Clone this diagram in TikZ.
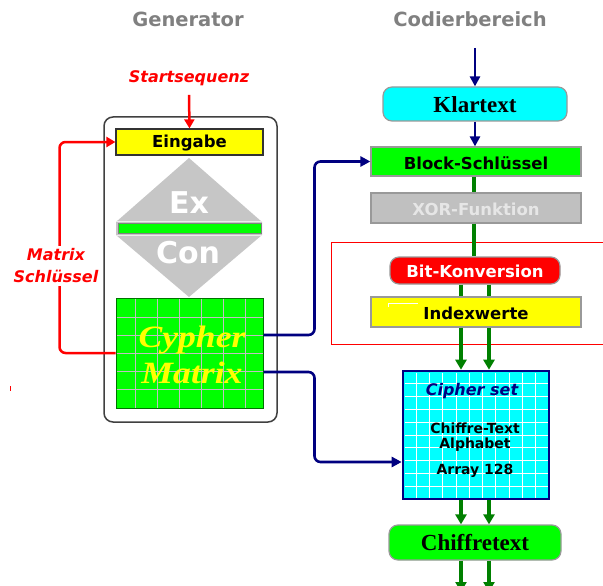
\documentclass[tikz,border=0pt]{standalone}
\usepackage{fontspec}
\usepackage{graphicx}
\setmainfont{Liberation Serif}
\newfontfamily\dv{DejaVu Sans}
\usetikzlibrary{arrows.meta}
\definecolor{navyc}{HTML}{000080}
\definecolor{dgreen}{HTML}{008000}
\definecolor{limec}{HTML}{00FF00}
\definecolor{cyanc}{HTML}{00FFFF}
\definecolor{yelc}{HTML}{FFFF00}
\definecolor{redc}{HTML}{FF0000}
\definecolor{titlegray}{HTML}{808080}
\definecolor{boxgray}{HTML}{C0C0C0}
\definecolor{diagray}{HTML}{C6C6C6}
\definecolor{bordgray}{HTML}{999999}
\definecolor{gridgray}{HTML}{C0C0C0}
\definecolor{xortext}{HTML}{E6E6E6}
\tikzset{
  title/.style={anchor=base, text=titlegray, font=\dv\bfseries\fontsize{19.5}{20}\selectfont},
  sbox/.style={draw=bordgray, line width=1.2pt, inner sep=0pt, text height=13pt, text depth=0pt,
    font=\dv\bfseries\fontsize{16.5}{18}\selectfont},
  serifbox/.style={draw=bordgray, line width=1.2pt, inner sep=0pt, rounded corners=9pt,
    text height=17pt, text depth=0pt, font=\bfseries\fontsize{23}{24}\selectfont},
  redlabel/.style={text=redc, font=\dv\bfseries\itshape\fontsize{16}{22}\selectfont},
  rline/.style={draw=redc, line width=2.5pt, -{Triangle[width=10pt,length=9pt]}},
  nline/.style={draw=navyc, line width=2.6pt, rounded corners=6pt, -{Triangle[width=10pt,length=10pt]}},
  gline/.style={draw=dgreen, line width=4pt},
  garrow/.style={gline, -{Triangle[width=11pt,length=10pt]}},
  smalltext/.style={anchor=base, font=\dv\bfseries\fontsize{14}{14}\selectfont},
}
\begin{document}
\begin{tikzpicture}[x=1pt,y=-1pt]
\useasboundingbox (0,0) rectangle (603,586);
\clip (0,0) rectangle (603,586);
\fill[white] (0,0) rectangle (603,586);

% titles
\node[title] (gen) at (188,27) {Generator};
\node[title] (cod) at (470,27) {Codierbereich};

% generator frame
\node[draw=black!75, line width=1.5pt, rounded corners=9pt, minimum width=173, minimum height=305, inner sep=0pt] (gbox) at (190.5,269.5) {};

% Ex/Con diamond
\fill[diagray] (116,222) -- (189,158) -- (262,222) -- (262,235) -- (189,297) -- (116,235) -- cycle;
\draw[white!85!gray, line width=1pt] (116,221) -- (262,221) (116,235) -- (262,235);
\node[fill=limec, draw=gray, line width=.8pt, minimum width=143, minimum height=10, inner sep=0pt] (bar) at (189.5,228) {};
\node[anchor=base, text=white, font=\dv\bfseries\fontsize{30}{30}\selectfont] (ex) at (189,213) {Ex};
\node[anchor=base, text=white, font=\dv\bfseries\fontsize{30}{30}\selectfont] (con) at (188,263) {Con};

% Eingabe
\node[sbox, fill=yelc, draw=black!80, minimum width=147, minimum height=26, text height=10pt] (eing) at (189.5,142) {Eingabe};

% Cypher Matrix
\node[fill=limec, draw=green!45!black, line width=1pt, minimum width=147, minimum height=110, inner sep=0pt] (cm) at (189.5,353) {};
\foreach \x in {135,157,179,201,223,245} \draw[gridgray, line width=1pt] (\x,298.5) -- (\x,407.5);
\foreach \y in {317,335,353,371,389} \draw[gridgray, line width=1pt] (116.5,\y) -- (262.5,\y);
\node[anchor=base, text=yelc, font=\bfseries\itshape\fontsize{31}{31}\selectfont] (cy) at (192,347) {\scalebox{1.15}[1]{Cypher}};
\node[anchor=base, text=yelc, font=\bfseries\itshape\fontsize{31}{31}\selectfont] (mx) at (192,383) {\scalebox{1.15}[1]{Matrix}};

% Startsequenz
\node[redlabel, anchor=base] (start) at (189,83) {Startsequenz};
\draw[rline] ([yshift=-5pt]start.south) -- (eing.north);

% Matrix Schluessel loop
\draw[rline, rounded corners=6pt] (cm.west) -- ++(-56,0) |- (eing.west);
\node[redlabel, fill=white, align=center, inner sep=3pt] (ms) at (56,266) {Matrix\\Schlüssel};

% stray red dot
\fill[redc] (9.5,386) rectangle (11,390.5);

% right column
\coordinate (kin) at (475,48);
\node[serifbox, fill=cyanc, minimum width=184, minimum height=34, text height=18pt] (klar) at (475,104) {Klartext};
\node[sbox, fill=limec, minimum width=210, minimum height=29, text height=15pt] (block) at (476,161.5) {Block-Schlüssel};
\node[sbox, fill=boxgray, text=xortext, minimum width=210, minimum height=30, text height=14pt] (xor) at (476,208) {XOR-Funktion};
\draw[redc, line width=1pt] (331,242) rectangle (615,344);
\node[sbox, fill=redc, text=white, rounded corners=9pt, minimum width=170, minimum height=27] (bit) at (475,270.5) {Bit-Konversion};
\node[sbox, fill=yelc, minimum width=210, minimum height=30, text height=14pt] (idx) at (476,312) {Indexwerte};
\draw[white, line width=1pt] (388,307) -- (388,303) -- (418,303);

% Cipher set
\node[fill=cyanc, draw=navyc, line width=2.6pt, minimum width=146, minimum height=128, inner sep=0pt] (cs) at (476,435) {};
\foreach \i in {1,...,10} \draw[white, line width=1pt] (403+\i*13.27,372.5) -- (403+\i*13.27,497.5);
\foreach \i in {1,...,9} \draw[white, line width=1pt] (404.5,371+\i*12.8) -- (547.5,371+\i*12.8);
\node[anchor=base, text=navyc, font=\dv\bfseries\itshape\fontsize{16}{16}\selectfont] (cst) at (472,395) {Cipher set};
\node[smalltext] (ct1) at (475,433) {Chiffre-Text};
\node[smalltext] (ct2) at (475,448) {Alphabet};
\node[smalltext] (ct3) at (475,474) {Array 128};

\node[serifbox, fill=limec, minimum width=172, minimum height=35, text height=15pt] (chiff) at (475,542.5) {Chiffretext};
\coordinate (endl) at (461,592);
\coordinate (endr) at (489,592);

% connectors right
\draw[nline] (kin) -- (klar.north);
\draw[nline] (klar.south) -- ([xshift=-1pt]block.north);
\draw[gline] ([xshift=-2pt]block.south) -- ([xshift=-2pt]xor.north);
\draw[gline] ([xshift=-2pt]xor.south) -- ([xshift=-1pt]bit.north);
\draw[gline] ([xshift=-14pt]bit.south) -- ([xshift=-15pt]idx.north);
\draw[gline] ([xshift=14pt]bit.south) -- ([xshift=13pt]idx.north);
\draw[garrow] ([xshift=-15pt]idx.south) -- ([xshift=-15pt]cs.north);
\draw[garrow] ([xshift=13pt]idx.south) -- ([xshift=13pt]cs.north);
\draw[garrow] ([xshift=-15pt]cs.south) -- ([xshift=-14pt]chiff.north);
\draw[garrow] ([xshift=13pt]cs.south) -- ([xshift=14pt]chiff.north);
\draw[garrow] ([xshift=-14pt]chiff.south) -- (endl);
\draw[garrow] ([xshift=14pt]chiff.south) -- (endr);

% navy connectors from Cypher Matrix
\draw[nline] ([yshift=18pt]cm.east) -- ++(51,0) |- (block.west);
\draw[nline] ([yshift=-19pt]cm.east) -- ++(51,0) |- ([yshift=-27pt]cs.west);
\end{tikzpicture}
\end{document}
